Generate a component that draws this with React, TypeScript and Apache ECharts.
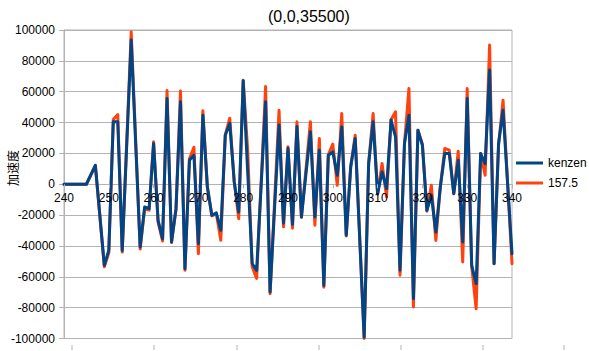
import React, { useEffect, useRef } from "react";
import * as echarts from "echarts";

const TITLE = "(0,0,35500)";
const Y_NAME = "加速度";
const SERIES_NAMES = ["kenzen", "157.5"];

const xs = [240, 241, 242, 243, 244, 245, 247, 249, 250, 251, 252, 253, 255, 257, 258, 259, 260, 261, 262, 263, 264, 265, 266, 267, 268, 269, 270, 271, 272, 273, 274, 275, 276, 277, 278, 279, 280, 281, 282, 283, 285, 286, 288, 289, 290, 291, 292, 293, 295, 296, 297, 298, 299, 300, 301, 302, 303, 304, 305, 307, 308, 309, 310, 311, 312, 313, 314, 315, 316, 317, 318, 319, 320, 321, 322, 323, 324, 325, 326, 327, 328, 329, 330, 331, 332, 333, 334, 335, 336, 337, 338, 340];

const kenzen = [0, 0, 0, 0, 0, 0, 12300, -52500, -42800, 40500, 40500, -42900, 93500, -40700, -14700, -15800, 26400, -23400, -35300, 55600, -37400, -16000, 53500, -54800, 15600, 18800, -38500, 44800, -1700, -20100, -18600, -29900, 31800, 39500, 1500, -18000, 67100, 8000, -51400, -55800, 53500, -69800, 38400, -25200, 23300, -26000, 37500, -21200, 34000, -21200, 22100, -65600, 18800, 21000, 5800, 37200, -33100, 11300, 29700, -99100, 13400, 40500, -6100, 8000, -2800, 41600, 30700, -55800, 26400, 44800, -74200, 35000, 25300, -16900, -7100, -31000, -1700, 19900, 19900, -6100, 15600, -37400, 55600, -52600, -64500, 19900, 13400, 74000, -51500, 26400, 48000, -45000];

const s1575 = [0, 0, 0, 0, 0, 0, 12300, -53500, -44500, 42000, 45200, -44000, 98900, -42000, -16000, -16800, 27500, -24500, -36800, 60800, -37800, -16000, 60500, -55800, 16500, 24000, -45000, 47600, -1700, -20500, -19000, -36300, 32000, 42800, 1500, -22300, 67500, 22000, -53500, -61000, 63300, -71000, 48000, -27600, 24300, -28500, 40500, -21500, 40500, -26600, 29700, -66700, 19000, 26000, -650, 45900, -33500, 11500, 31800, -100000, 13400, 45900, -6500, 13400, -8200, 41800, 47000, -59000, 26400, 62100, -79600, 35000, 26000, -17500, -650, -36400, -1700, 23200, 22100, -6100, 21400, -50400, 62100, -53000, -80700, 19900, 5800, 90300, -51500, 25000, 54500, -51500];

const yTicks = { min: -100000, max: 100000, interval: 20000 };
const xTicks = { min: 240, max: 340, interval: 10 };
const bottomTickXs = [72, 154, 237, 319, 401, 483, 564];

const GRID = "#b3b3b3";
const FONT = "'Liberation Sans', Arial, 'Noto Sans CJK SC', sans-serif";

export default function App() {
  const ref = useRef<HTMLDivElement>(null);
  useEffect(() => {
    if (!ref.current) return;
    const chart = echarts.init(ref.current, null, { renderer: "svg" });
    const pairs = (ys: number[]) => xs.map((x, i) => [x, ys[i]]);
    chart.setOption({
      animation: false,
      backgroundColor: "#ffffff",
      textStyle: { fontFamily: FONT },
      title: {
        text: TITLE,
        left: 263,
        top: 3,
        textStyle: { fontSize: 16, fontWeight: "normal", color: "#000", fontFamily: FONT },
      },
      legend: {
        orient: "vertical",
        left: 511,
        top: 152,
        icon: "rect",
        itemWidth: 27,
        itemHeight: 3,
        itemGap: 8,
        data: SERIES_NAMES,
        textStyle: { fontSize: 12, color: "#000", fontFamily: FONT, lineHeight: 12 },
      },
      grid: {
        left: 64,
        right: 77,
        top: 30,
        bottom: 12.5,
        show: true,
        borderColor: GRID,
        borderWidth: 1,
      },
      xAxis: {
        type: "value",
        min: xTicks.min,
        max: xTicks.max,
        interval: xTicks.interval,
        z: 10,
        offset: -154.25,
        axisLine: { show: false, onZero: false },
        axisTick: { show: true, length: 4, lineStyle: { color: GRID } },
        axisLabel: { fontSize: 12, color: "#000", margin: 8, fontFamily: FONT },
        splitLine: { show: false },
      },
      yAxis: {
        type: "value",
        min: yTicks.min,
        max: yTicks.max,
        interval: yTicks.interval,
        axisLine: { show: true, lineStyle: { color: GRID, width: 1 } },
        axisTick: { show: true, length: 5, lineStyle: { color: GRID } },
        axisLabel: {
          fontSize: 12,
          color: "#000",
          margin: 9,
          fontFamily: FONT,
          formatter: (v: number) => String(v),
        },
        splitLine: { show: true, lineStyle: { color: GRID, width: 1 } },
      },
      graphic: [
        {
          type: "text",
          x: 6,
          y: 168,
          rotation: Math.PI / 2,
          style: {
            text: Y_NAME,
            fill: "#000",
            font: "12px 'Noto Sans CJK SC', sans-serif",
            textAlign: "center",
            textVerticalAlign: "top",
          },
        },
        ...bottomTickXs.map((x) => ({
          type: "line",
          shape: { x1: x, y1: 345, x2: x, y2: 350 },
          style: { stroke: GRID, lineWidth: 1 },
        })),
      ],
      series: [
        {
          name: SERIES_NAMES[0],
          type: "line",
          data: pairs(kenzen),
          symbol: "none",
          z: 4,
          color: "#004586",
          lineStyle: { width: 3, color: "#004586", join: "round", cap: "round" },
        },
        {
          name: SERIES_NAMES[1],
          type: "line",
          data: pairs(s1575),
          symbol: "none",
          z: 3,
          color: "#ff420e",
          lineStyle: { width: 3, color: "#ff420e", join: "round", cap: "round" },
        },
      ],
    });
    return () => chart.dispose();
  }, []);
  return (
    <div
      ref={ref}
      style={{ position: "fixed", left: 0, top: 0, width: 589, height: 351 }}
    />
  );
}
